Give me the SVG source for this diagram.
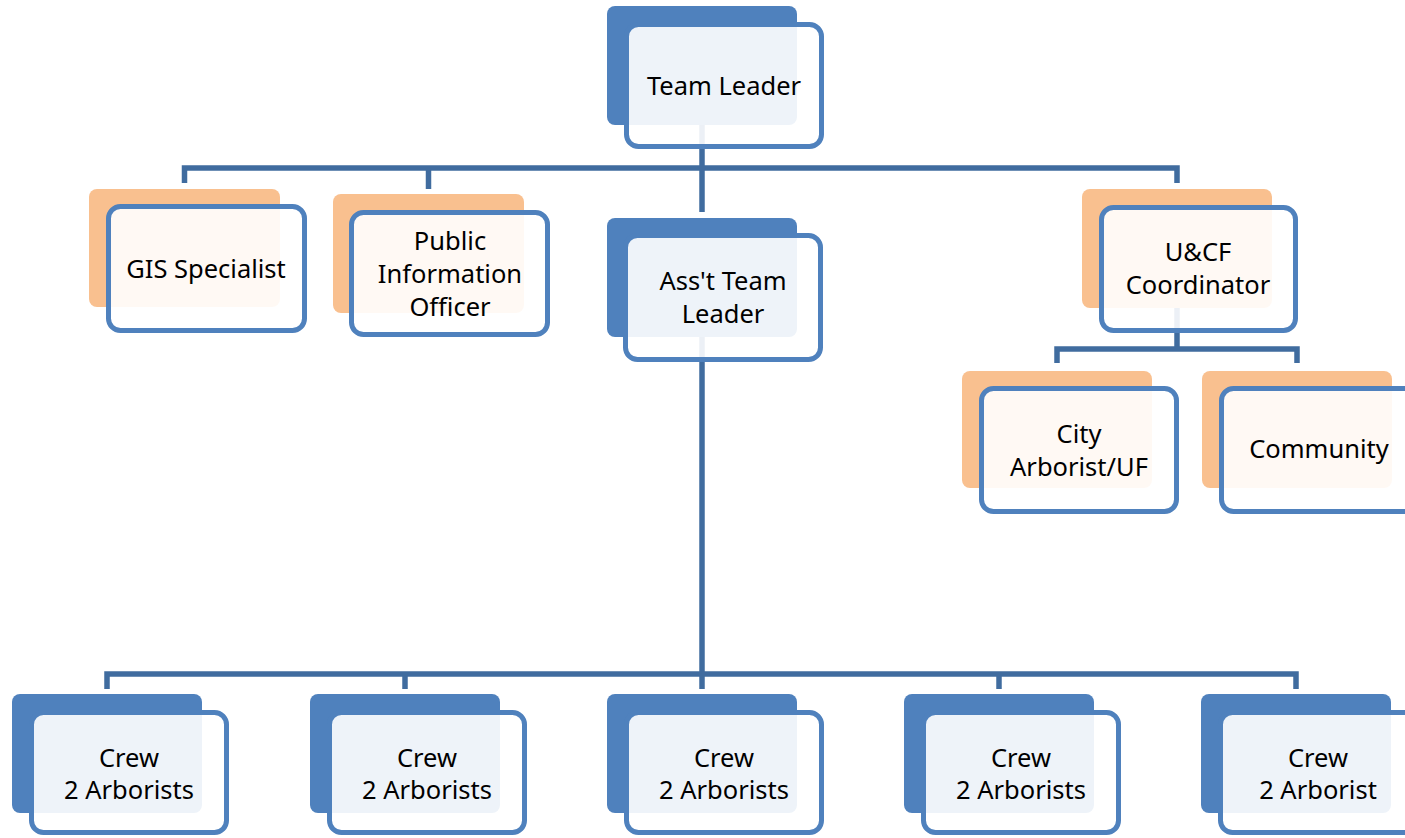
<svg xmlns="http://www.w3.org/2000/svg" width="1405" height="838" viewBox="0 0 1405 838">
<style>
.c{fill:none;stroke:#406C9F;stroke-width:5.5}
.bb{fill:#4F81BD}
.bo{fill:#F9C08F}
.f{fill:#FFFFFF;fill-opacity:0.9;stroke:#4F81BD;stroke-width:5}
.t{font-family:"Noto Sans","Open Sans",sans-serif;font-size:25.5px;fill:#000;text-anchor:middle}
</style>
<rect width="1405" height="838" fill="#FFFFFF"/>
<g id="connectors">
<path class="c" d="M184.5,183 V168 H1177 V183"/>
<path class="c" d="M428.5,168 V189"/>
<path class="c" d="M702,125 V212"/>
<path class="c" d="M702,337 V689"/>
<path class="c" d="M107,689 V674 H1296 V689"/>
<path class="c" d="M405,674 V689"/>
<path class="c" d="M999,674 V689"/>
<path class="c" d="M1177,308 V349"/>
<path class="c" d="M1057,363 V349 H1297 V363"/>
</g>
<g id="team-leader">
<rect class="bb" x="607" y="6" width="190" height="119" rx="8"/>
<rect class="f" x="626.5" y="24.5" width="195" height="122" rx="12"/>
<text class="t" x="724" y="95">Team Leader</text>
</g>
<g id="gis-specialist">
<rect class="bo" x="89" y="189" width="191" height="118" rx="8"/>
<rect class="f" x="108.5" y="206.5" width="196" height="124" rx="12"/>
<text class="t" x="206" y="278">GIS Specialist</text>
</g>
<g id="public-information-officer">
<rect class="bo" x="333" y="194" width="191" height="119" rx="8"/>
<rect class="f" x="351.5" y="212.5" width="196" height="122" rx="12"/>
<text class="t" x="450" y="250">Public</text>
<text class="t" x="450" y="283">Information</text>
<text class="t" x="450" y="316">Officer</text>
</g>
<g id="asst-team-leader">
<rect class="bb" x="607" y="218" width="190" height="119" rx="8"/>
<rect class="f" x="625.5" y="235.5" width="195" height="124" rx="12"/>
<text class="t" x="723" y="290">Ass't Team</text>
<text class="t" x="723" y="323">Leader</text>
</g>
<g id="ucf-coordinator">
<rect class="bo" x="1082" y="189" width="190" height="119" rx="8"/>
<rect class="f" x="1101.5" y="207.5" width="194" height="123" rx="12"/>
<text class="t" x="1198" y="261">U&amp;CF</text>
<text class="t" x="1198" y="294">Coordinator</text>
</g>
<g id="city-arborist">
<rect class="bo" x="962" y="371" width="190" height="117" rx="8"/>
<rect class="f" x="981.5" y="388.5" width="195" height="123" rx="12"/>
<text class="t" x="1079" y="443">City</text>
<text class="t" x="1079" y="476">Arborist/UF</text>
</g>
<g id="community">
<rect class="bo" x="1202" y="371" width="190" height="117" rx="8"/>
<rect class="f" x="1221.5" y="388.5" width="195" height="123" rx="12"/>
<text class="t" x="1319" y="458">Community</text>
</g>
<g id="crew-1">
<rect class="bb" x="12" y="694" width="190" height="119" rx="8"/>
<rect class="f" x="31.5" y="712.5" width="195" height="120" rx="12"/>
<text class="t" x="129" y="767">Crew</text>
<text class="t" x="129" y="799">2 Arborists</text>
</g>
<g id="crew-2">
<rect class="bb" x="310" y="694" width="190" height="119" rx="8"/>
<rect class="f" x="329.5" y="712.5" width="195" height="120" rx="12"/>
<text class="t" x="427" y="767">Crew</text>
<text class="t" x="427" y="799">2 Arborists</text>
</g>
<g id="crew-3">
<rect class="bb" x="607" y="694" width="190" height="119" rx="8"/>
<rect class="f" x="626.5" y="712.5" width="195" height="120" rx="12"/>
<text class="t" x="724" y="767">Crew</text>
<text class="t" x="724" y="799">2 Arborists</text>
</g>
<g id="crew-4">
<rect class="bb" x="904" y="694" width="190" height="119" rx="8"/>
<rect class="f" x="923.5" y="712.5" width="195" height="120" rx="12"/>
<text class="t" x="1021" y="767">Crew</text>
<text class="t" x="1021" y="799">2 Arborists</text>
</g>
<g id="crew-5">
<rect class="bb" x="1201" y="694" width="190" height="119" rx="8"/>
<rect class="f" x="1220.5" y="712.5" width="195" height="120" rx="12"/>
<text class="t" x="1318" y="767">Crew</text>
<text class="t" x="1318" y="799">2 Arborist</text>
</g>
</svg>
